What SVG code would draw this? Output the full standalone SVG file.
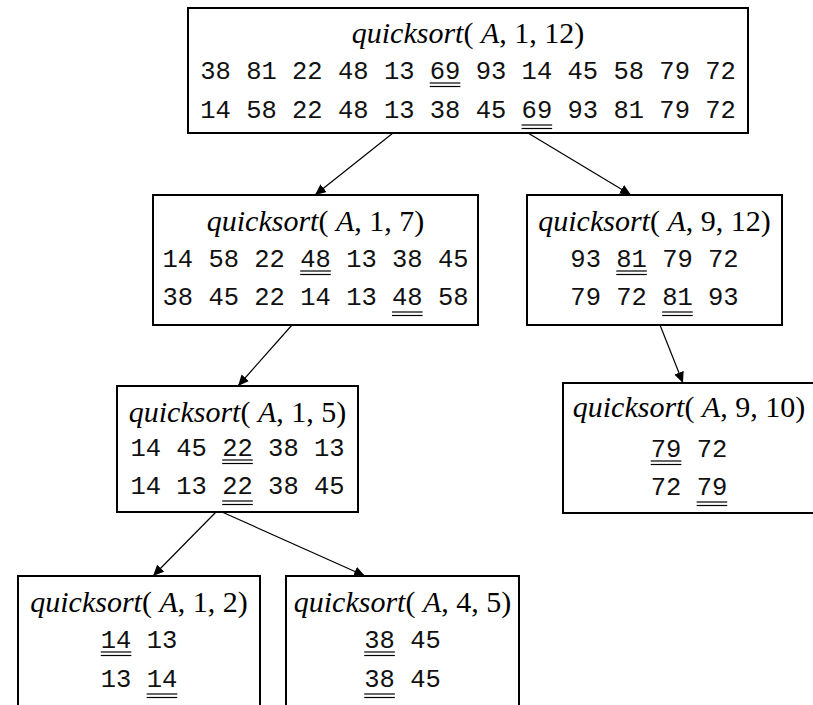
<svg xmlns="http://www.w3.org/2000/svg" width="813" height="705" viewBox="0 0 813 705">
<style>
.box{fill:#fff;stroke:#000;stroke-width:2}
.t{font-family:"Liberation Serif","Times New Roman",serif;font-size:30px;text-anchor:middle;fill:#000}
.i{font-style:italic}
.m{font-family:"Liberation Mono","Courier New",monospace;font-size:25.5px;fill:#111}
.u{stroke:#000;stroke-width:1.2}
.c{stroke:#000;stroke-width:1.2;fill:none;marker-end:url(#ah)}
</style>
<defs>
<marker id="ah" markerUnits="userSpaceOnUse" markerWidth="12" markerHeight="10" refX="11" refY="5" orient="auto">
<path d="M0,0 L11,5 L0,10 Z" fill="#000"/>
</marker>
</defs>
<rect width="813" height="705" fill="#fff"/>
<g id="connectors">
<line class="c" x1="393" y1="133" x2="315" y2="195"/>
<line class="c" x1="528" y1="133" x2="631" y2="195"/>
<line class="c" x1="292" y1="325" x2="238" y2="386"/>
<line class="c" x1="660" y1="325" x2="683" y2="383"/>
<line class="c" x1="216" y1="512" x2="153" y2="576"/>
<line class="c" x1="222" y1="512" x2="365" y2="576"/>
</g>
<g id="n1">
<rect class="box" x="188" y="8" width="560" height="125"/>
<text class="t" x="468" y="43"><tspan class="i">quicksort</tspan>( <tspan class="i">A</tspan>, 1, 12)</text>
<text class="m" x="200.25" y="79">38 81 22 48 13 69 93 14 45 58 79 72</text>
<text class="m" x="200.25" y="118">14 58 22 48 13 38 45 69 93 81 79 72</text>
<line class="u" x1="429.75" y1="83" x2="460.35" y2="83"/>
<line class="u" x1="429.75" y1="86.5" x2="460.35" y2="86.5"/>
<line class="u" x1="521.55" y1="125" x2="552.15" y2="125"/>
<line class="u" x1="521.55" y1="128.5" x2="552.15" y2="128.5"/>
</g>
<g id="n2">
<rect class="box" x="153" y="195" width="325" height="130"/>
<text class="t" x="315.5" y="231"><tspan class="i">quicksort</tspan>( <tspan class="i">A</tspan>, 1, 7)</text>
<text class="m" x="162.5" y="267">14 58 22 48 13 38 45</text>
<text class="m" x="162.5" y="305">38 45 22 14 13 48 58</text>
<line class="u" x1="300.2" y1="271" x2="330.8" y2="271"/>
<line class="u" x1="300.2" y1="274.5" x2="330.8" y2="274.5"/>
<line class="u" x1="392" y1="312" x2="422.6" y2="312"/>
<line class="u" x1="392" y1="315.5" x2="422.6" y2="315.5"/>
</g>
<g id="n3">
<rect class="box" x="527" y="195" width="255" height="130"/>
<text class="t" x="654.5" y="231"><tspan class="i">quicksort</tspan>( <tspan class="i">A</tspan>, 9, 12)</text>
<text class="m" x="570.35" y="267">93 81 79 72</text>
<text class="m" x="570.35" y="305">79 72 81 93</text>
<line class="u" x1="616.25" y1="271" x2="646.85" y2="271"/>
<line class="u" x1="616.25" y1="274.5" x2="646.85" y2="274.5"/>
<line class="u" x1="662.15" y1="312" x2="692.75" y2="312"/>
<line class="u" x1="662.15" y1="315.5" x2="692.75" y2="315.5"/>
</g>
<g id="n4">
<rect class="box" x="117" y="386" width="241" height="126"/>
<text class="t" x="237.5" y="422"><tspan class="i">quicksort</tspan>( <tspan class="i">A</tspan>, 1, 5)</text>
<text class="m" x="130.4" y="456">14 45 22 38 13</text>
<text class="m" x="130.4" y="494">14 13 22 38 45</text>
<line class="u" x1="222.2" y1="460" x2="252.8" y2="460"/>
<line class="u" x1="222.2" y1="463.5" x2="252.8" y2="463.5"/>
<line class="u" x1="222.2" y1="501" x2="252.8" y2="501"/>
<line class="u" x1="222.2" y1="504.5" x2="252.8" y2="504.5"/>
</g>
<g id="n5">
<rect class="box" x="563" y="383" width="252" height="130"/>
<text class="t" x="689" y="417"><tspan class="i">quicksort</tspan>( <tspan class="i">A</tspan>, 9, 10)</text>
<text class="m" x="650.75" y="457">79 72</text>
<text class="m" x="650.75" y="495">72 79</text>
<line class="u" x1="650.75" y1="461" x2="681.35" y2="461"/>
<line class="u" x1="650.75" y1="464.5" x2="681.35" y2="464.5"/>
<line class="u" x1="696.65" y1="502" x2="727.25" y2="502"/>
<line class="u" x1="696.65" y1="505.5" x2="727.25" y2="505.5"/>
</g>
<g id="n6">
<rect class="box" x="18" y="576" width="242" height="140"/>
<text class="t" x="139" y="612"><tspan class="i">quicksort</tspan>( <tspan class="i">A</tspan>, 1, 2)</text>
<text class="m" x="100.75" y="648">14 13</text>
<text class="m" x="100.75" y="687">13 14</text>
<line class="u" x1="100.75" y1="652" x2="131.35" y2="652"/>
<line class="u" x1="100.75" y1="655.5" x2="131.35" y2="655.5"/>
<line class="u" x1="146.65" y1="694" x2="177.25" y2="694"/>
<line class="u" x1="146.65" y1="697.5" x2="177.25" y2="697.5"/>
</g>
<g id="n7">
<rect class="box" x="286" y="576" width="233" height="140"/>
<text class="t" x="402.5" y="612"><tspan class="i">quicksort</tspan>( <tspan class="i">A</tspan>, 4, 5)</text>
<text class="m" x="364.25" y="648">38 45</text>
<text class="m" x="364.25" y="687">38 45</text>
<line class="u" x1="364.25" y1="652" x2="394.85" y2="652"/>
<line class="u" x1="364.25" y1="655.5" x2="394.85" y2="655.5"/>
<line class="u" x1="364.25" y1="694" x2="394.85" y2="694"/>
<line class="u" x1="364.25" y1="697.5" x2="394.85" y2="697.5"/>
</g>
</svg>
